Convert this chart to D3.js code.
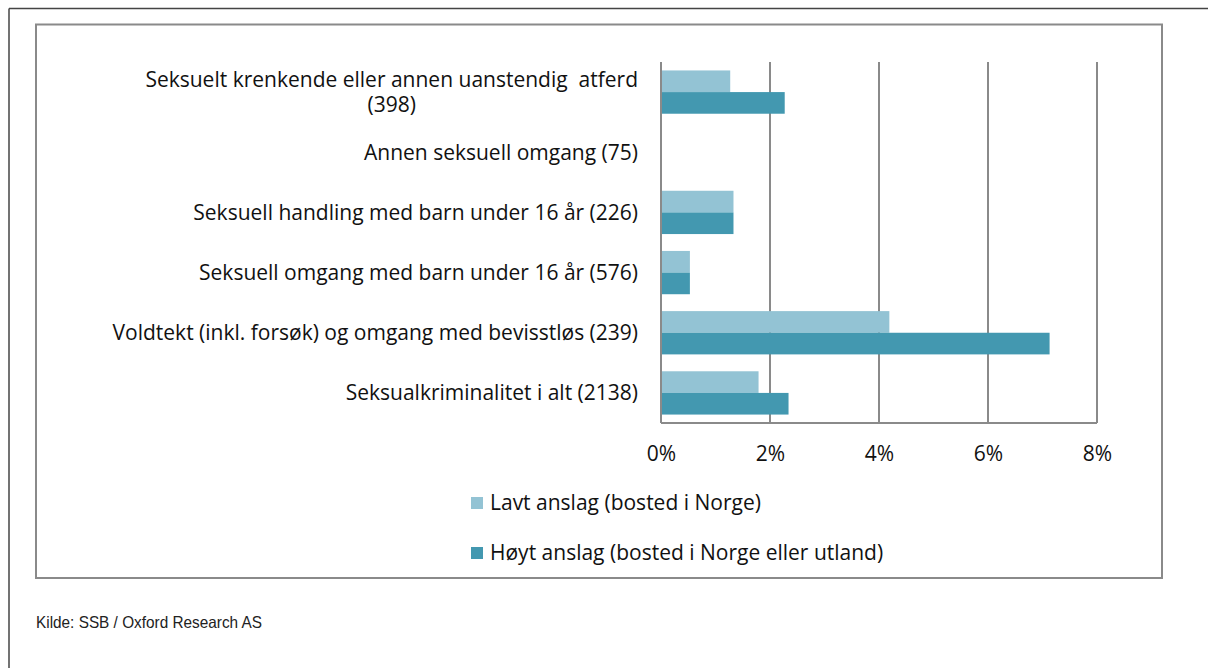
<!DOCTYPE html>
<html><head><meta charset="utf-8">
<script src="https://cdn.jsdelivr.net/npm/d3@7"></script>
<style>
html,body{margin:0;padding:0;background:#fff;}
svg{display:block;}
text{white-space:pre;}
</style>
</head><body>
<svg id="c" width="1208" height="668"></svg>
<script>
const categories = [
  "Seksuelt krenkende eller annen uanstendig  atferd (398)",
  "Annen seksuell omgang (75)",
  "Seksuell handling med barn under 16 år (226)",
  "Seksuell omgang med barn under 16 år (576)",
  "Voldtekt (inkl. forsøk) og omgang med bevisstløs (239)",
  "Seksualkriminalitet i alt (2138)"
];
const labelLines = [
  ["Seksuelt krenkende eller annen uanstendig  atferd", "(398)"],
  ["Annen seksuell omgang (75)"],
  ["Seksuell handling med barn under 16 år (226)"],
  ["Seksuell omgang med barn under 16 år (576)"],
  ["Voldtekt (inkl. forsøk) og omgang med bevisstløs (239)"],
  ["Seksualkriminalitet i alt (2138)"]
];
const seriesNames = ["Lavt anslag (bosted i Norge)", "Høyt anslag (bosted i Norge eller utland)"];
const lavt = [1.27, 0, 1.33, 0.53, 4.19, 1.79];
const hoyt = [2.27, 0, 1.33, 0.53, 7.13, 2.34];
const ticks = [0, 2, 4, 6, 8];
const tickLabels = ["0%", "2%", "4%", "6%", "8%"];
const source = "Kilde: SSB / Oxford Research AS";

const colors = ["#93c3d4", "#4398b0"];
const font = "'Open Sans', Lato, sans-serif";
const fs = 21;
const svg = d3.select("#c");

// outer frame
svg.append("line").attr("x1", 9).attr("x2", 1208).attr("y1", 8.5).attr("y2", 8.5).attr("stroke", "#444").attr("stroke-width", 1.5);
svg.append("line").attr("x1", 9).attr("x2", 9).attr("y1", 8.5).attr("y2", 668).attr("stroke", "#444").attr("stroke-width", 1.5);
// inner box
svg.append("rect").attr("x", 36).attr("y", 24.5).attr("width", 1126).attr("height", 553.5)
  .attr("fill", "none").attr("stroke", "#8a8a8a").attr("stroke-width", 2);

const x = d3.scaleLinear().domain([0, 8]).range([661, 1097]);
const y = d3.scaleBand().domain(categories).range([62, 423]).padding(0);
const sub = d3.scaleBand().domain([0, 1]).range([0, y.bandwidth()]).paddingInner(0).paddingOuter(0.39);

// gridlines
svg.append("g").selectAll("line").data(ticks).join("line")
  .attr("x1", d => x(d)).attr("x2", d => x(d)).attr("y1", 62).attr("y2", 423)
  .attr("stroke", "#8a8a8a").attr("stroke-width", 2);
svg.append("line").attr("x1", x(0)).attr("x2", x(8)).attr("y1", 423).attr("y2", 423)
  .attr("stroke", "#8a8a8a").attr("stroke-width", 2);

// bars
const series = [lavt, hoyt];
series.forEach((vals, si) => {
  svg.append("g").selectAll("rect").data(categories).join("rect")
    .attr("x", x(0) + 1)
    .attr("y", (c) => y(c) + sub(si))
    .attr("width", (c, i) => Math.max(0, x(vals[i]) - x(0) - 1))
    .attr("height", sub.bandwidth())
    .attr("fill", colors[si]);
});

// axis tick labels
const xAxis = d3.axisBottom(x).tickValues(ticks).tickFormat((d, i) => tickLabels[i]).tickSize(0).tickPadding(0);
const gx = svg.append("g").attr("transform", "translate(0,454)").call(xAxis);
gx.select(".domain").remove();
gx.selectAll("text").attr("font-family", font).attr("font-size", fs).attr("fill", "#111").attr("dy", "0.35em");

// category labels
categories.forEach((c, i) => {
  const lines = labelLines[i];
  const cy = y(c) + y.bandwidth() / 2;
  const lh = 25;
  const t = svg.append("text").attr("font-family", font).attr("font-size", fs).attr("fill", "#111")
    .attr("text-anchor", lines.length > 1 ? "middle" : "end");
  if (lines.length > 1) {
    const tmp = svg.append("text").attr("font-family", font).attr("font-size", fs).text(lines[0]);
    const w = tmp.node().getComputedTextLength(); tmp.remove();
    const cx = 638 - w / 2;
    lines.forEach((ln, j) => {
      t.append("tspan").attr("x", cx).attr("y", cy + (j - (lines.length - 1) / 2) * lh).attr("dy", "0.35em").text(ln);
    });
  } else {
    t.attr("x", 638).attr("y", cy).attr("dy", "0.35em").text(lines[0]);
  }
});

// legend
const lg = svg.append("g");
seriesNames.forEach((n, i) => {
  const ly = 503 + i * 50;
  lg.append("rect").attr("x", 471).attr("y", ly - 6).attr("width", 12).attr("height", 12).attr("fill", colors[i]);
  lg.append("text").attr("x", 490).attr("y", ly).attr("dy", "0.35em").attr("font-family", font).attr("font-size", fs).attr("fill", "#111").text(n);
});

// source
svg.append("text").attr("x", 36).attr("y", 622).attr("dy", "0.35em")
  .attr("font-family", "'Liberation Sans Narrow', 'Arial Narrow', 'Liberation Sans', sans-serif")
  .attr("font-size", 16.5).attr("textLength", 226).attr("lengthAdjust", "spacingAndGlyphs")
  .attr("fill", "#222").text(source);
</script>
</body></html>
